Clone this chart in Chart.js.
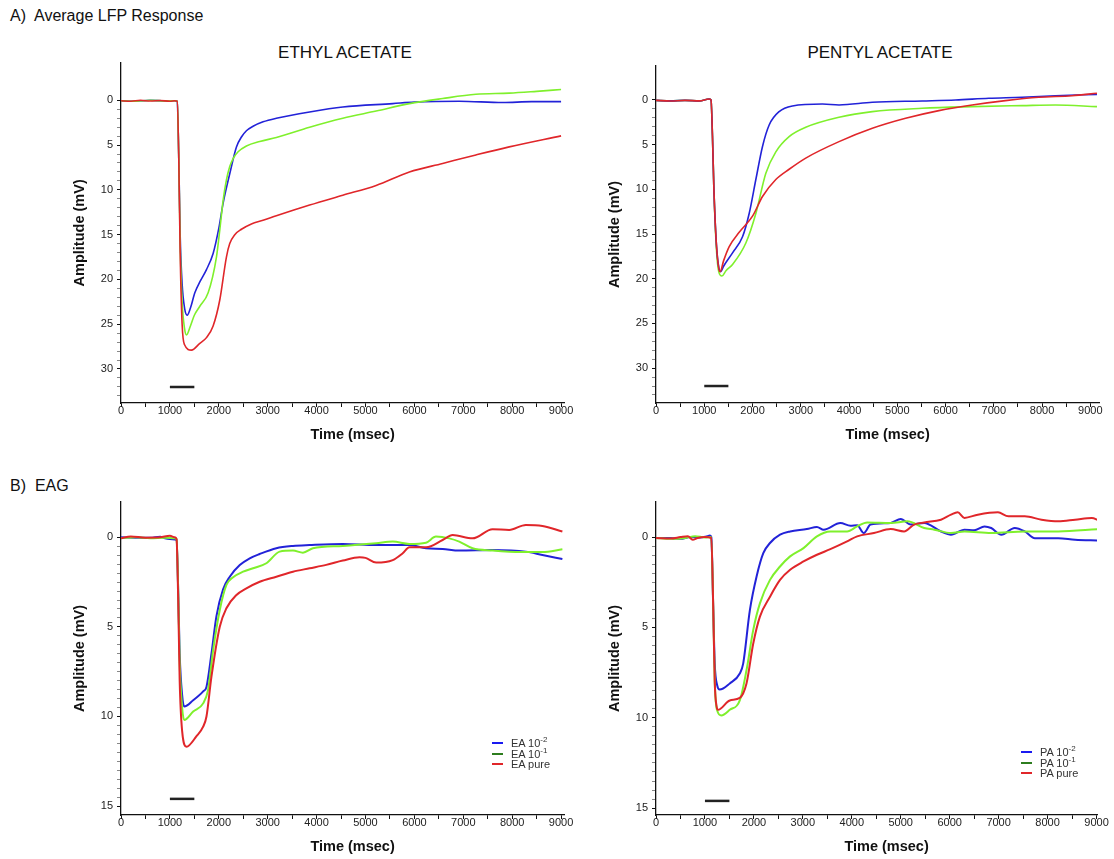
<!DOCTYPE html>
<html>
<head>
<meta charset="utf-8">
<script src="https://cdn.jsdelivr.net/npm/chart.js@4.4.0/dist/chart.umd.min.js"></script>
<style>
body { margin:0; width:1114px; height:859px; overflow:hidden; background:#fff; position:relative;
       font-family:"Liberation Sans", Arial, sans-serif; color:#111; }
.lbl { position:absolute; white-space:nowrap; }
.ttl { position:absolute; width:300px; text-align:center; font-size:17px; white-space:nowrap; }
canvas { position:absolute; }
.leg { position:absolute; font-size:11px; color:#333; white-space:nowrap; }
.leg .row { position:absolute; left:0; height:12px; line-height:12px; }
.leg .ln { position:absolute; left:0; top:5px; width:11px; height:2px; }
.leg .tx { position:absolute; left:19px; top:0; }
.leg sup { font-size:8px; position:relative; top:-1px; vertical-align:top; line-height:8px; }
</style>
</head>
<body>

<div class="lbl" style="left:10px;top:7px;font-size:16px;">A)&nbsp; Average LFP Response</div>
<div class="lbl" style="left:10px;top:477px;font-size:16px;">B)&nbsp; EAG</div>
<div class="ttl" style="left:195px;top:43px;">ETHYL ACETATE</div>
<div class="ttl" style="left:730px;top:43px;">PENTYL ACETATE</div>

<canvas id="lfpEA" width="520" height="411" style="left:60px;top:40px;"></canvas>
<canvas id="lfpPA" width="520" height="411" style="left:595px;top:40px;"></canvas>
<canvas id="eagEA" width="520" height="393" style="left:60px;top:470px;"></canvas>
<canvas id="eagPA" width="518" height="393" style="left:595px;top:470px;"></canvas>

<div class="leg" style="left:492px;top:737px;">
  <div class="row" style="top:0px;"><span class="ln" style="background:#1a1af0"></span><span class="tx">EA 10<sup>-2</sup></span></div>
  <div class="row" style="top:10.5px;"><span class="ln" style="background:#2d7d1e"></span><span class="tx">EA 10<sup>-1</sup></span></div>
  <div class="row" style="top:21px;"><span class="ln" style="background:#e0262a"></span><span class="tx">EA pure</span></div>
</div>
<div class="leg" style="left:1021px;top:746px;">
  <div class="row" style="top:0px;"><span class="ln" style="background:#1a1af0"></span><span class="tx">PA 10<sup>-2</sup></span></div>
  <div class="row" style="top:10.5px;"><span class="ln" style="background:#2d7d1e"></span><span class="tx">PA 10<sup>-1</sup></span></div>
  <div class="row" style="top:21px;"><span class="ln" style="background:#e0262a"></span><span class="tx">PA pure</span></div>
</div>

<script>
// colores das curvas
const azul = '#2222d8';
const verde = '#7ff02c';
const vermelho = '#e0262a';

// ticks dos eixos
const tempoTicks = [0, 500, 1000, 1500, 2000, 2500, 3000, 3500, 4000, 4500, 5000, 5500, 6000, 6500, 7000, 7500, 8000, 8500, 9000];
const lfpYMax = 33;     // ultimo tick menor do LFP
const lfpYPasso = 1;
const eagYMax = 15;     // ultimo tick menor do EAG
const eagYPasso = 0.5;

// barra do estimulo (1000-1500 ms)
const stimT = [1000, 1500];
const stimLfp = [32, 32];
const stimEag = [14.6, 14.6];

// LFP - ethyl acetate
const lfpEA_t_azul = [0, 300, 600, 900, 1100, 1150, 1180, 1210, 1250, 1300, 1354, 1420, 1510, 1620, 1748, 1884, 2000, 2088, 2224, 2361, 2463, 2565, 2701, 2905, 3177, 3857, 4537, 5558, 6000, 6918, 7803, 8400, 9000];
const lfpEA_v_azul = [0.05, 0.1, 0.0, 0.08, 0.05, 0.1, 6, 15, 20.5, 23.2, 24, 23.2, 21.5, 20.2, 18.9, 17.1, 14.3, 11.5, 8.2, 5.2, 4.1, 3.4, 2.9, 2.4, 2.0, 1.3, 0.75, 0.37, 0.2, 0.1, 0.25, 0.15, 0.15];
const lfpEA_t_verde = [0, 300, 600, 900, 1100, 1150, 1180, 1210, 1250, 1300, 1340, 1420, 1500, 1612, 1782, 1952, 2020, 2088, 2156, 2224, 2293, 2395, 2565, 2837, 3177, 3857, 4537, 5218, 5898, 6578, 7258, 7939, 8500, 9000];
const lfpEA_v_verde = [0.05, 0.1, 0.0, 0.08, 0.05, 0.1, 6, 16, 22.5, 25.5, 26.2, 25.2, 24.0, 23.0, 21.5, 17.5, 14.5, 11.2, 8.9, 7.4, 6.5, 5.75, 5.1, 4.6, 4.15, 3.0, 2.0, 1.2, 0.37, -0.2, -0.67, -0.8, -1.0, -1.2];
const lfpEA_t_verm = [0, 200, 400, 600, 800, 1000, 1100, 1150, 1180, 1210, 1250, 1300, 1442, 1600, 1748, 1884, 2020, 2156, 2224, 2327, 2463, 2667, 2905, 3177, 3857, 4537, 5218, 5898, 6578, 7258, 7939, 9000];
const lfpEA_v_verm = [0.05, 0.1, 0.0, 0.08, 0.02, 0.1, 0.05, 0.1, 6, 17, 25, 27.3, 27.9, 27.2, 26.5, 25.2, 22.3, 17.5, 16.0, 15.0, 14.4, 13.8, 13.4, 12.9, 11.7, 10.6, 9.5, 8.0, 7.05, 6.1, 5.2, 3.97];

// LFP - pentyl acetate
const lfpPA_t_azul = [0, 300, 600, 900, 1100, 1140, 1170, 1200, 1250, 1300, 1345, 1400, 1586, 1793, 1931, 2069, 2207, 2345, 2552, 2828, 3448, 3793, 4483, 5517, 6207, 6897, 7586, 8276, 9138];
const lfpPA_v_azul = [0.05, 0.1, 0.05, 0.1, -0.1, 0.0, 4, 10, 16, 18.7, 19.2, 18.6, 17.1, 15.3, 12.7, 8.9, 5.2, 2.8, 1.3, 0.67, 0.45, 0.56, 0.26, 0.11, 0.0, -0.19, -0.3, -0.48, -0.63];
const lfpPA_t_verde = [0, 300, 600, 900, 1100, 1140, 1170, 1200, 1250, 1300, 1366, 1450, 1586, 1862, 2069, 2276, 2483, 2759, 3103, 3793, 4483, 5517, 6552, 7586, 8276, 9138];
const lfpPA_v_verde = [0.05, 0.1, 0.05, 0.1, -0.1, 0.0, 4, 10, 16.5, 19.2, 19.7, 19.1, 18.4, 16.0, 12.7, 8.2, 5.8, 4.1, 3.06, 1.94, 1.3, 0.93, 0.75, 0.63, 0.56, 0.75];
const lfpPA_t_verm = [0, 300, 600, 900, 1100, 1140, 1170, 1200, 1250, 1300, 1331, 1400, 1517, 1724, 2000, 2207, 2483, 2759, 3103, 3793, 4483, 5172, 5862, 6552, 7241, 7931, 8621, 9138];
const lfpPA_v_verm = [0.05, 0.12, 0.05, 0.1, -0.1, 0.0, 4, 10, 16, 18.8, 19.2, 18.0, 16.4, 14.8, 13.0, 10.8, 8.9, 7.75, 6.5, 4.66, 3.17, 2.05, 1.19, 0.56, 0.07, -0.3, -0.48, -0.75];

// EAG - ethyl acetate
const eagEA_t_azul = [0, 300, 600, 800, 900, 1000, 1100, 1136, 1170, 1200, 1250, 1293, 1476, 1680, 1748, 1850, 1952, 2088, 2224, 2429, 2633, 2837, 3177, 3517, 3857, 4537, 5218, 5898, 6238, 6578, 6918, 7599, 8279, 8619, 9027];
const eagEA_v_azul = [0.0, 0.02, 0.03, -0.03, 0.05, 0.1, 0.12, 0.15, 3, 6.5, 8.8, 9.45, 9.1, 8.6, 8.35, 6.5, 4.4, 2.9, 2.2, 1.55, 1.17, 0.93, 0.61, 0.48, 0.43, 0.37, 0.43, 0.43, 0.61, 0.65, 0.74, 0.71, 0.8, 0.99, 1.21];
const eagEA_t_verde = [0, 300, 600, 900, 1100, 1136, 1170, 1200, 1250, 1293, 1476, 1680, 1782, 1884, 2020, 2156, 2293, 2497, 2701, 2973, 3245, 3517, 3721, 3925, 4537, 5218, 5558, 5898, 6238, 6442, 6714, 6918, 7190, 7599, 7939, 8619, 9027];
const eagEA_v_verde = [0.05, 0.0, 0.05, 0.02, 0.05, 0.1, 3, 7, 9.5, 10.2, 9.73, 9.27, 8.5, 6.3, 4.06, 2.66, 2.23, 1.92, 1.73, 1.45, 0.8, 0.74, 0.86, 0.61, 0.48, 0.33, 0.24, 0.37, 0.3, -0.04, 0.06, 0.24, 0.61, 0.74, 0.8, 0.82, 0.67];
const eagEA_t_verm = [0, 200, 500, 800, 1000, 1100, 1136, 1170, 1200, 1250, 1340, 1544, 1680, 1748, 1850, 2020, 2156, 2361, 2565, 2837, 3177, 3517, 3857, 4197, 4537, 4878, 5000, 5218, 5558, 5762, 5898, 6238, 6578, 6782, 7190, 7599, 7939, 8279, 8619, 9027];
const eagEA_v_verm = [0.05, -0.05, 0.02, 0.0, -0.08, 0.0, 0.1, 3.5, 8, 10.8, 11.69, 11.1, 10.57, 10.0, 7.78, 4.99, 3.96, 3.22, 2.85, 2.48, 2.2, 1.92, 1.73, 1.54, 1.3, 1.12, 1.15, 1.41, 1.27, 0.89, 0.56, 0.56, 0.15, -0.13, 0.06, -0.45, -0.41, -0.69, -0.63, -0.32];

// EAG - pentyl acetate
const eagPA_t_azul = [0, 300, 500, 700, 900, 1050, 1100, 1130, 1170, 1200, 1250, 1301, 1507, 1712, 1781, 1918, 2055, 2192, 2329, 2534, 2740, 3082, 3288, 3425, 3767, 3973, 4110, 4247, 4384, 4795, 5000, 5205, 5479, 5822, 6027, 6301, 6500, 6712, 6849, 7055, 7329, 7534, 7740, 8219, 8562, 9041];
const eagPA_v_azul = [0.05, 0.05, 0.1, 0.0, 0.02, -0.05, -0.08, 0.0, 4, 7, 8.2, 8.44, 8.1, 7.55, 7.0, 4.04, 2.18, 0.89, 0.33, -0.13, -0.31, -0.44, -0.56, -0.41, -0.78, -0.63, -0.65, -0.22, -0.69, -0.78, -1.0, -0.69, -0.78, -0.31, -0.13, -0.41, -0.38, -0.59, -0.5, -0.13, -0.5, -0.31, 0.06, 0.06, 0.15, 0.19];
const eagPA_t_verde = [0, 300, 600, 800, 1000, 1130, 1170, 1200, 1250, 1336, 1507, 1712, 1849, 1986, 2123, 2329, 2534, 2740, 3014, 3288, 3562, 3904, 4110, 4315, 4795, 5137, 5479, 5685, 6027, 6301, 6849, 7534, 8219, 9041];
const eagPA_v_verde = [0.05, 0.1, 0.05, -0.05, 0.02, 0.0, 4, 8, 9.6, 9.87, 9.56, 9.04, 7.37, 5.15, 3.67, 2.37, 1.63, 1.07, 0.61, -0.04, -0.31, -0.31, -0.59, -0.81, -0.78, -0.87, -0.5, -0.41, -0.22, -0.31, -0.22, -0.31, -0.31, -0.44];
const eagPA_t_verm = [0, 300, 500, 650, 750, 850, 1000, 1130, 1170, 1200, 1240, 1267, 1507, 1712, 1849, 1986, 2123, 2329, 2534, 2740, 3014, 3288, 3562, 3904, 4110, 4452, 4795, 5068, 5274, 5479, 5822, 6027, 6164, 6301, 6575, 6986, 7200, 7534, 7877, 8219, 8562, 8904, 9041];
const eagPA_v_verm = [0.05, 0.08, 0.0, -0.05, 0.15, 0.05, 0.0, 0.05, 4, 8, 9.4, 9.56, 9.04, 8.9, 8.1, 5.9, 4.4, 3.3, 2.37, 1.81, 1.35, 0.98, 0.67, 0.24, -0.04, -0.22, -0.44, -0.31, -0.69, -0.81, -0.96, -1.24, -1.37, -1.06, -1.24, -1.37, -1.15, -1.15, -0.96, -0.87, -0.96, -1.06, -0.93];

Chart.defaults.font.family = '"Liberation Sans", Arial, sans-serif';
Chart.defaults.color = '#222';

function linha(t, v, cor, largura) {
    return {
        data: t.map((x, i) => ({ x: x, y: v[i] })),
        borderColor: cor,
        borderWidth: largura,
        pointRadius: 0,
        cubicInterpolationMode: 'monotone',
        fill: false
    };
}

function barra(v) {
    return {
        data: stimT.map((x, i) => ({ x: x, y: v[i] })),
        borderColor: '#222',
        borderWidth: 2.5,
        pointRadius: 0,
        tension: 0
    };
}

function painel(id, datasets, xMax, yMin, yMax, yUltimo, yPasso, padTop) {
    const ctx = document.getElementById(id);
    const yTicks = [];
    for (let v = 0; v <= yUltimo + 1e-9; v += yPasso) {
        yTicks.push({ value: Math.round(v * 10) / 10 });
    }
    new Chart(ctx, {
        type: 'line',
        data: { datasets: datasets },
        options: {
            responsive: false,
            animation: false,
            layout: { padding: { top: padTop, right: 16, bottom: 0, left: 0 } },
            plugins: { legend: { display: false }, tooltip: { enabled: false } },
            scales: {
                x: {
                    type: 'linear',
                    min: 0,
                    max: xMax,
                    afterBuildTicks: function (s) { s.ticks = tempoTicks.map(v => ({ value: v })); },
                    afterFit: function (s) { s.height = 48; },
                    border: { color: '#111', width: 1.3 },
                    grid: { drawOnChartArea: false, tickLength: 4, tickColor: '#111' },
                    ticks: {
                        autoSkip: false, maxRotation: 0,
                        padding: -2, font: { size: 11, lineHeight: 1 }, color: '#222',
                        callback: function (v) { return v % 1000 === 0 ? String(v) : ''; }
                    },
                    title: {
                        display: true, text: '\u00a0\u00a0\u00a0\u00a0\u00a0Time (msec)', color: '#111',
                        font: { size: 14.5, weight: 'bold' }, padding: { top: 0, bottom: 7 }
                    }
                },
                y: {
                    type: 'linear',
                    reverse: true,
                    min: yMin,
                    max: yMax,
                    afterBuildTicks: function (s) { s.ticks = yTicks.slice(); },
                    afterFit: function (s) { s.width = 61; },
                    border: { color: '#111', width: 1.3 },
                    grid: {
                        drawOnChartArea: false, tickLength: 4,
                        tickColor: function (c) {
                            if (!c.tick) return 'rgba(0,0,0,0)';
                            return c.tick.value % 5 === 0 ? '#111' : '#888';
                        }
                    },
                    ticks: {
                        autoSkip: false,
                        padding: 4, font: { size: 11 }, color: '#222',
                        callback: function (v) { return v % 5 === 0 ? String(v) : ''; }
                    },
                    title: {
                        display: true, text: 'Amplitude (mV)', color: '#111',
                        font: { size: 14.5, weight: 'bold' }, padding: { top: 11, bottom: 0 }
                    }
                }
            }
        }
    });
}

painel('lfpEA', [
    linha(lfpEA_t_verm, lfpEA_v_verm, vermelho, 1.6),
    linha(lfpEA_t_verde, lfpEA_v_verde, verde, 1.6),
    linha(lfpEA_t_azul, lfpEA_v_azul, azul, 1.6),
    barra(stimLfp)
], 9060, -4.2, 33.8, lfpYMax, lfpYPasso, 22.7);

painel('lfpPA', [
    linha(lfpPA_t_verm, lfpPA_v_verm, vermelho, 1.6),
    linha(lfpPA_t_azul, lfpPA_v_azul, azul, 1.6),
    linha(lfpPA_t_verde, lfpPA_v_verde, verde, 1.6),
    barra(stimLfp)
], 9180, -3.8, 33.9, lfpYMax, lfpYPasso, 26);

painel('eagEA', [
    linha(eagEA_t_verm, eagEA_v_verm, vermelho, 2),
    linha(eagEA_t_verde, eagEA_v_verde, verde, 2),
    linha(eagEA_t_azul, eagEA_v_azul, azul, 2),
    barra(stimEag)
], 9060, -1.97, 15.5, eagYMax, eagYPasso, 32);

painel('eagPA', [
    linha(eagPA_t_verm, eagPA_v_verm, vermelho, 2),
    linha(eagPA_t_verde, eagPA_v_verde, verde, 2),
    linha(eagPA_t_azul, eagPA_v_azul, azul, 2),
    barra(stimEag)
], 9010, -1.94, 15.38, eagYMax, eagYPasso, 32);
</script>
</body>
</html>
